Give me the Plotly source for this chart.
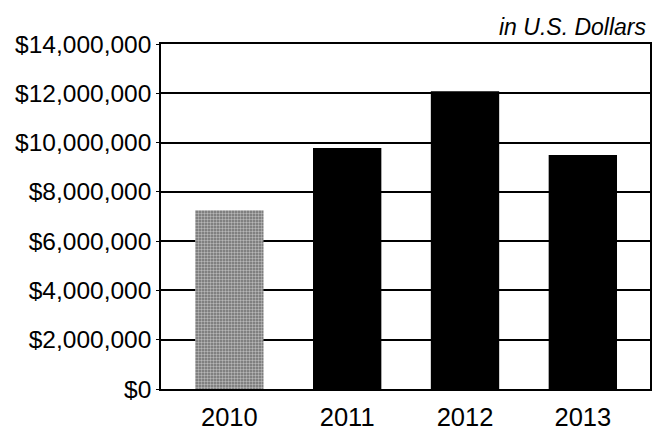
import plotly.graph_objects as go

years = ["2010", "2011", "2012", "2013"]
revenue = [7250000, 9780000, 12080000, 9500000]
bar_colors = ["#6e6e6e", "#000000", "#000000", "#000000"]
y_ticks = [0, 2000000, 4000000, 6000000, 8000000, 10000000, 12000000, 14000000]
y_tick_labels = ["$0", "$2,000,000", "$4,000,000", "$6,000,000", "$8,000,000",
                 "$10,000,000", "$12,000,000", "$14,000,000"]

FONT = "Liberation Sans, Arial, Helvetica, sans-serif"

fig = go.Figure(
    go.Bar(
        x=years,
        y=revenue,
        width=0.58,
        marker=dict(
            color=bar_colors,
            line=dict(width=0),
            pattern=dict(
                shape=[".", "", "", ""],
                fgcolor="#1e1e1e",
                bgcolor="#8c8c8c",
                size=3,
                solidity=0.5,
            ),
        ),
        hoverinfo="x+y",
    )
)

fig.update_layout(
    width=654,
    height=433,
    margin=dict(l=161, r=2, t=44, b=40),
    paper_bgcolor="white",
    plot_bgcolor="white",
    showlegend=False,
    font=dict(family=FONT, color="black"),
    bargap=0.4,
    annotations=[
        dict(
            text="<i>in U.S. Dollars</i>",
            xref="paper", yref="paper",
            x=1.0, y=1.0,
            xanchor="right", yanchor="bottom",
            yshift=2, xshift=-2,
            showarrow=False,
            font=dict(family=FONT, size=23, color="black"),
        )
    ],
)

fig.update_xaxes(
    type="category",
    range=[-0.58, 3.57],
    showgrid=False,
    showline=True, linecolor="black", linewidth=1.5, mirror=True,
    ticks="", tickfont=dict(family=FONT, size=25.5, color="black"),
    ticklabelstandoff=5,
)

fig.update_yaxes(
    range=[0, 14000000],
    tickvals=y_ticks,
    ticktext=y_tick_labels,
    showgrid=True, gridcolor="black", gridwidth=1.5,
    showline=True, linecolor="black", linewidth=1.5, mirror=True,
    ticks="outside", ticklen=3, tickcolor="black",
    tickfont=dict(family=FONT, size=24.5, color="black"),
    zeroline=False,
)

fig.write_html("out.html")
